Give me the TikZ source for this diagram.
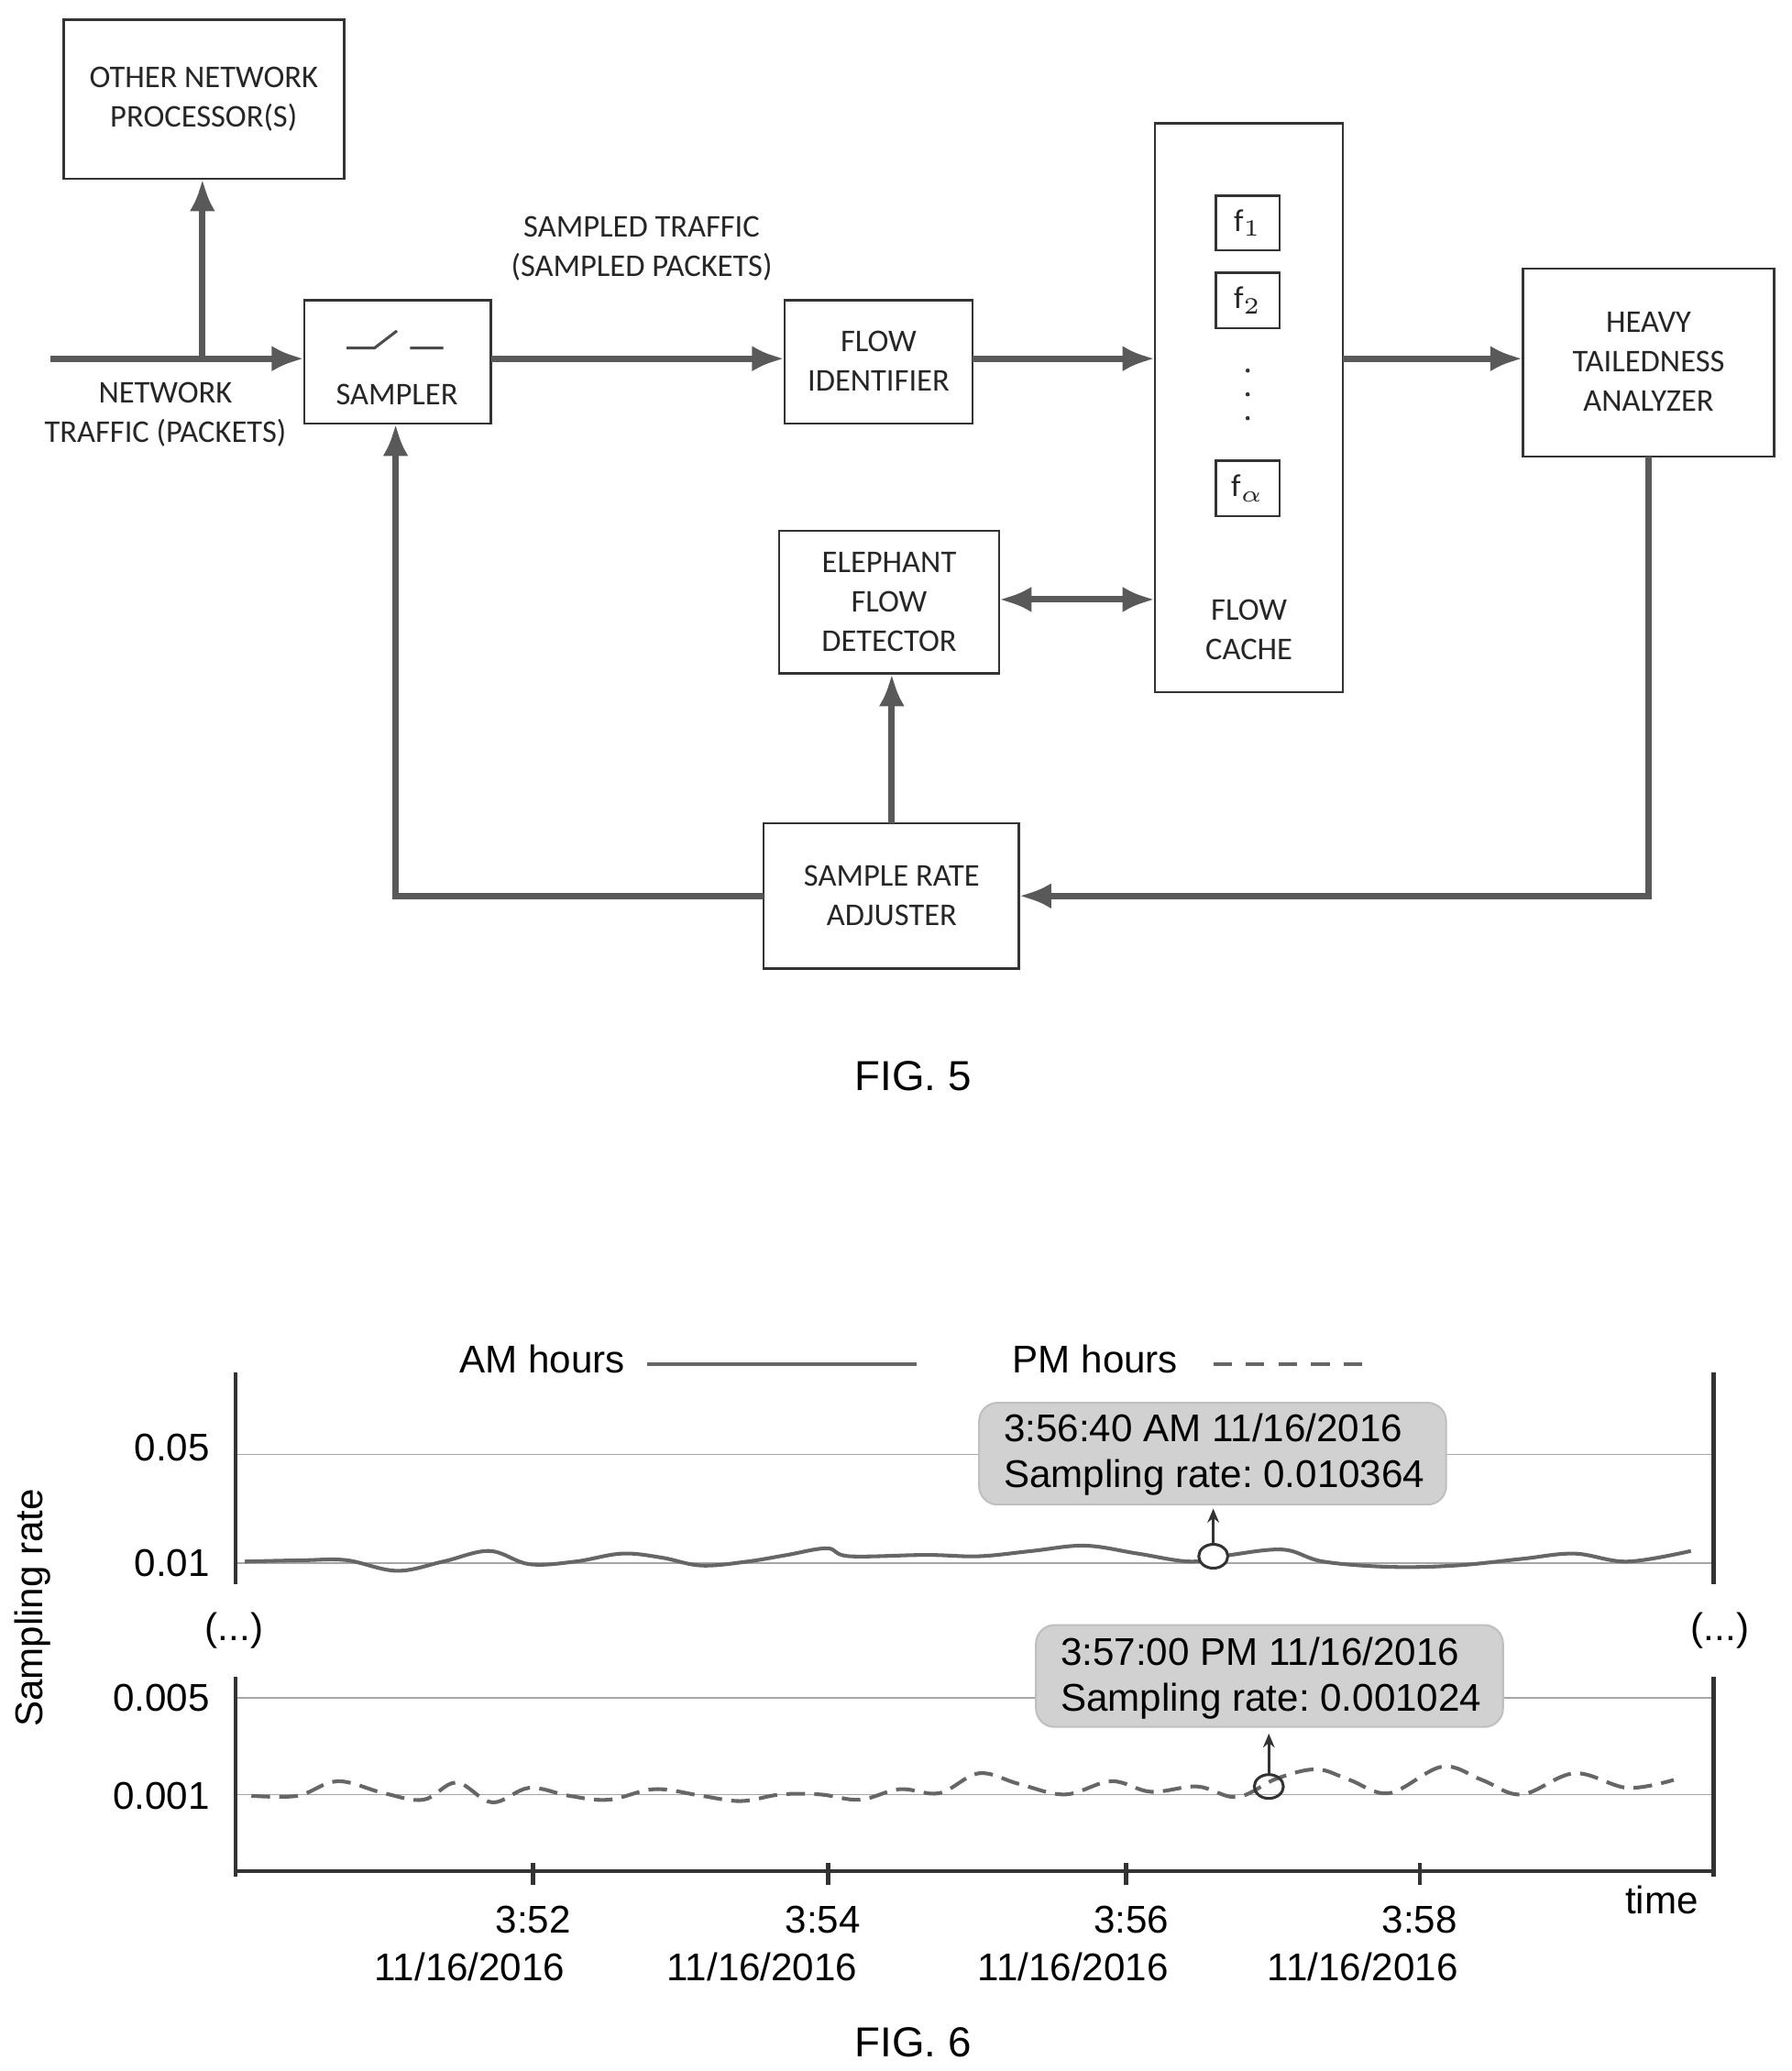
\documentclass[tikz,border=0pt]{standalone}
\usepackage{fontspec}
\setmainfont{Carlito}
\newfontfamily\arialf{Liberation Sans}
\usetikzlibrary{arrows.meta}
\frenchspacing
\begin{document}
\begin{tikzpicture}[x=0.01cm,y=-0.01cm,
  box/.style={draw=black!80,line width=0.5pt},
  lbl/.style={font=\fontsize{6.8}{8.5}\selectfont,text=black!85,align=center,inner sep=0},
  conn/.style={draw=black!65,line width=1.4pt,-{Latex[length=7pt,width=5.5pt]}},
  ax/.style={font=\arialf\fontsize{8.3}{9.8}\selectfont,inner sep=0,align=left},
  grid/.style={draw=black!35,line width=0.3pt},
  tip/.style={fill=black!18,draw=black!25,rounded corners=4pt,line width=0.4pt}]
\useasboundingbox (0,0) rectangle (1354,1565);
% ---------- FIG 5 ----------
\draw[box] (48,15) rectangle (260,135);
\node[lbl] (onp) at (154,75) {OTHER NETWORK\\PROCESSOR(S)};
\draw[box] (230,227) rectangle (371,320);
\node[lbl] (smp) at (300,298) {SAMPLER};
\draw[black!70,line width=0.6pt] (262,263)--(283,263)--(300,250) (310,263)--(335,263);
\draw[box] (593,227) rectangle (735,320);
\node[lbl] (fid) at (664,273) {FLOW\\IDENTIFIER};
\draw[box] (873,93) rectangle (1015,523);
\draw[box] (919,148) rectangle (967,189) node[lbl,midway] (f1) {f$_1$};
\draw[box] (919,206) rectangle (967,248) node[lbl,midway] (f2) {f$_2$};
\draw[box] (919,348) rectangle (967,390) node[lbl,midway] (fa) {f$_\alpha$};
\foreach \y in {280,298,316} \fill[black!80] (943,\y) circle (1.6);
\node[lbl] (fc) at (944,476) {FLOW\\CACHE};
\draw[box] (1151,203) rectangle (1341,345);
\node[lbl] (hta) at (1246,273) {HEAVY\\TAILEDNESS\\ANALYZER};
\draw[box] (589,401) rectangle (755,509);
\node[lbl] (efd) at (672,455) {ELEPHANT\\FLOW\\DETECTOR};
\draw[box] (577,622) rectangle (770,732);
\node[lbl] (sra) at (674,677) {SAMPLE RATE\\ADJUSTER};
\node[lbl] (nt) at (125,313) {NETWORK\\TRAFFIC (PACKETS)};
\node[lbl] (st) at (485,188) {SAMPLED TRAFFIC\\(SAMPLED PACKETS)};
\coordinate (in) at (38,271);
\coordinate (sL) at (230,271); \coordinate (sR) at (371,271);
\coordinate (br) at (153,271); \coordinate (onpB) at (153,135);
\coordinate (fL) at (593,271); \coordinate (fR) at (735,271);
\coordinate (cL) at (873,271); \coordinate (cR) at (1015,271);
\coordinate (hL) at (1151,271); \coordinate (hB) at (1246,345);
\coordinate (eR) at (755,453); \coordinate (cL2) at (873,453);
\coordinate (eB) at (674,509); \coordinate (sT) at (674,622);
\coordinate (sRr) at (770,677); \coordinate (sLl) at (577,677);
\coordinate (smB) at (299,320);
\draw[conn] (in)--(sL);
\draw[conn] (br)--(onpB);
\draw[conn] (sR)--(fL);
\draw[conn] (fR)--(cL);
\draw[conn] (cR)--(hL);
\draw[conn,{Latex[length=7pt,width=5.5pt]}-{Latex[length=7pt,width=5.5pt]}] (eR)--(cL2);
\draw[conn] (sT)--(eB);
\draw[conn] (hB)|-(sRr);
\draw[conn] (sLl)-|(smB);
\node[font=\arialf\fontsize{9}{10}\selectfont] (fig5) at (690,813) {FIG. 5};
% ---------- FIG 6 ----------
\node[ax,anchor=east] (amh) at (473,1027) {AM hours};
\draw[black!60,line width=0.7pt] (489,1031)--(693,1031);
\node[ax,anchor=east] (pmh) at (891,1027) {PM hours};
\draw[black!60,line width=0.7pt,dash pattern=on 4pt off 3pt] (917,1031)--(1040,1031);
\draw[grid] (178,1099)--(1295,1099) (178,1181)--(1295,1181);
\draw[grid] (178,1283)--(1295,1283) (178,1356)--(1295,1356);
\draw[black!80,line width=0.9pt] (178,1037)--(178,1197) (1295,1037)--(1295,1197);
\draw[black!80,line width=0.9pt] (178,1267)--(178,1418) (1295,1267)--(1295,1418);
\draw[black!80,line width=0.9pt] (178,1414)--(1295,1414);
\foreach \x in {403,626,851,1073} \draw[black!80,line width=0.9pt] (\x,1408)--(\x,1424);
\node[ax] (v1) at (130,1094) {0.05};
\node[ax] (v2) at (130,1181) {0.01};
\node[ax] (v3) at (122,1283) {0.005};
\node[ax] (v4) at (122,1357) {0.001};
\node[ax,rotate=90] (sr) at (25,1215) {Sampling rate};
\node[ax] (d1) at (177,1232) {(...)};
\node[ax] (d2) at (1300,1232) {(...)};
\node[ax] (time) at (1256,1436) {time};
\node[ax] (h1) at (403,1451) {3:52}; \node[ax] (y1) at (355,1486) {11/16/2016};
\node[ax] (h2) at (622,1451) {3:54}; \node[ax] (y2) at (576,1486) {11/16/2016};
\node[ax] (h3) at (855,1451) {3:56}; \node[ax] (y3) at (811,1486) {11/16/2016};
\node[ax] (h4) at (1073,1451) {3:58}; \node[ax] (y4) at (1030,1486) {11/16/2016};
% waves
\draw[black!60,line width=0.8pt] plot[smooth,tension=0.6] coordinates {(185,1180)(230,1179)(262,1179)(300,1187)(335,1180)(370,1172)(400,1182)(435,1180)(470,1174)(500,1177)(530,1183)(565,1180)(595,1175)(625,1170)(642,1176)(700,1175)(740,1176)(780,1172)(820,1168)(860,1174)(900,1180)(930,1175)(970,1171)(1000,1180)(1050,1184)(1100,1183)(1150,1178)(1190,1174)(1230,1180)(1278,1172)};
\draw[black!60,line width=0.8pt,dash pattern=on 4pt off 2pt] plot[smooth,tension=0.6] coordinates {(190,1357)(225,1357)(255,1346)(290,1355)(320,1360)(345,1347)(372,1362)(400,1351)(430,1357)(460,1360)(495,1352)(530,1357)(560,1361)(590,1356)(620,1356)(650,1360)(680,1352)(710,1355)(740,1340)(770,1348)(805,1356)(840,1346)(870,1354)(905,1350)(935,1358)(965,1344)(995,1337)(1020,1345)(1050,1355)(1090,1335)(1120,1345)(1150,1356)(1190,1340)(1230,1351)(1265,1345)};
\draw[tip] (740,1060) rectangle (1093,1137);
\node[ax,anchor=west] (tt1) at (758,1099) {3:56:40 AM 11/16/2016\\Sampling rate: 0.010364};
\draw[tip] (783,1228) rectangle (1136,1305);
\node[ax,anchor=west] (tt2) at (801,1268) {3:57:00 PM 11/16/2016\\Sampling rate: 0.001024};
\draw[black!80,line width=0.6pt,fill=white] (917,1176) ellipse (11 and 9);
\draw[black!80,line width=0.6pt] (959,1350) ellipse (11 and 9);
\draw[black!80,line width=0.6pt,-{Stealth[length=3pt,width=2.5pt]}] (917,1167)--(917,1140);
\draw[black!80,line width=0.6pt,-{Stealth[length=3pt,width=2.5pt]}] (959,1341)--(959,1310);
\node[font=\arialf\fontsize{9}{10}\selectfont] (fig6) at (690,1543) {FIG. 6};
\end{tikzpicture}
\end{document}
